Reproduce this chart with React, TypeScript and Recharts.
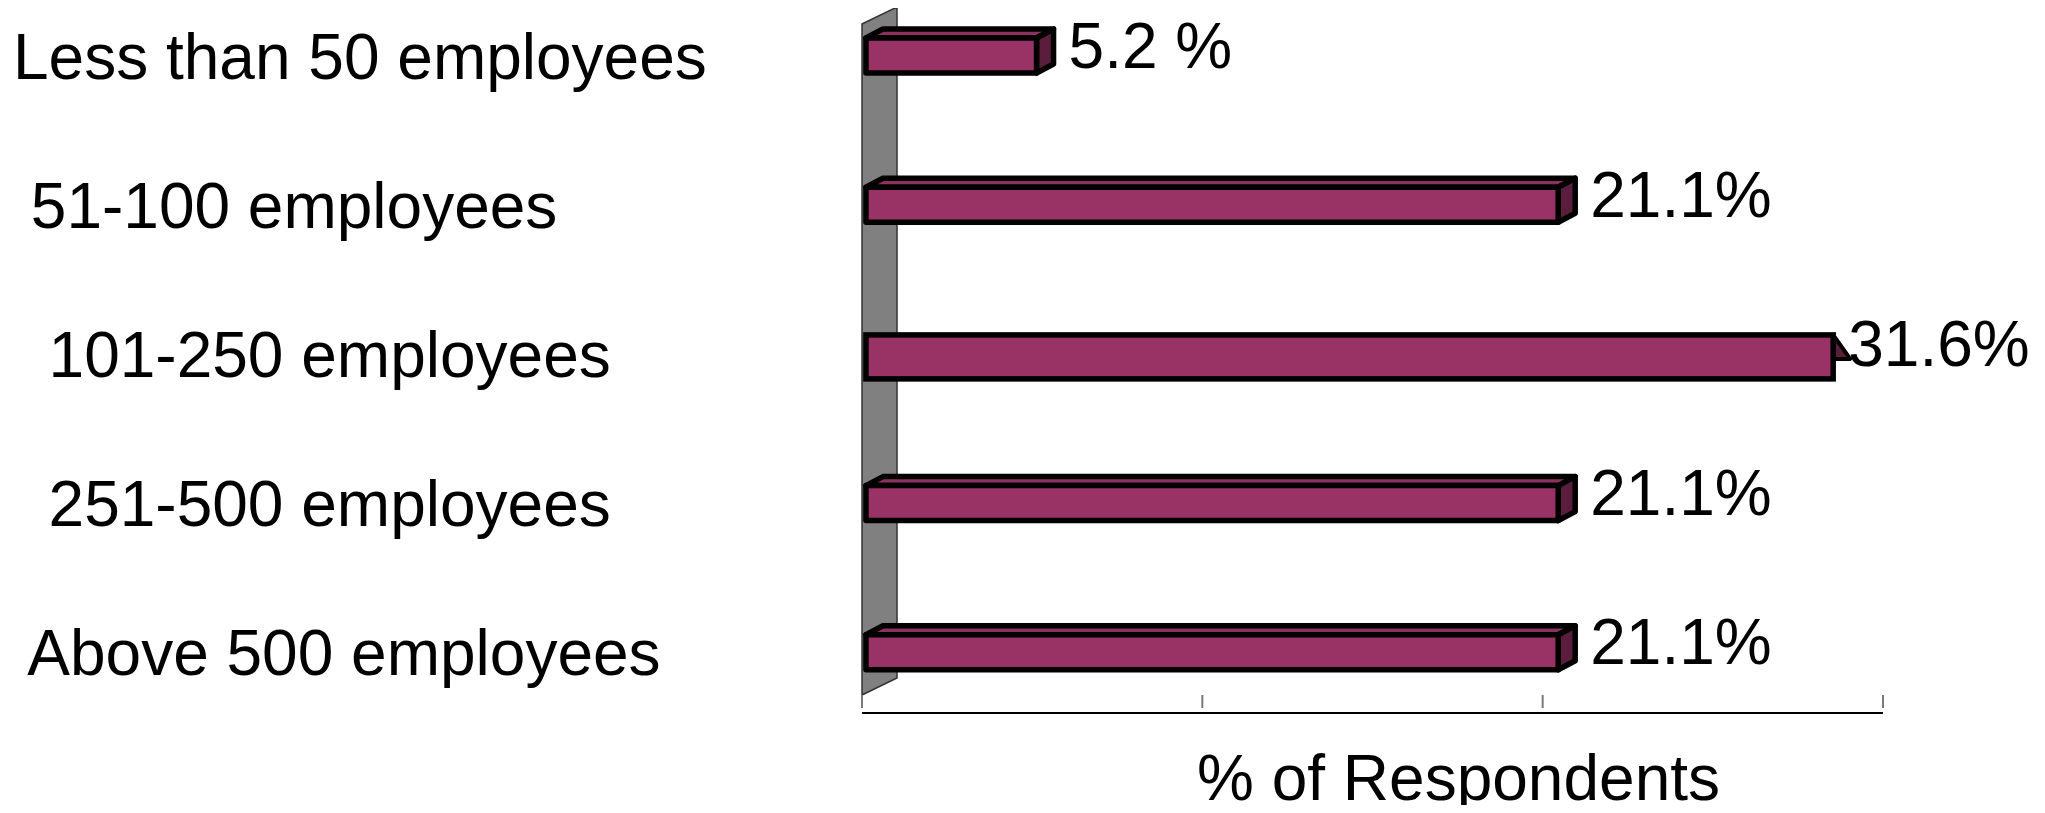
import React from 'react';
import * as Recharts from 'recharts';
import { BarChart, Bar, XAxis, YAxis, LabelList } from 'recharts';

const categories = [
  'Less than 50 employees',
  ' 51-100 employees',
  '  101-250 employees',
  '  251-500 employees',
  ' Above 500 employees',
];
const respondentShare = [5.2, 21.1, 31.6, 21.1, 21.1];
const valueLabels = ['5.2 %', '21.1%', '31.6%', '21.1%', '21.1%'];
const axisTicks = [0, 10, 20, 30];
const axisMax = 30;
const axisTitle = '% of Respondents';

const data = categories.map((name, i) => ({ name, value: respondentShare[i], label: valueLabels[i] }));

const CHART_W = 2029;
const CHART_H = 797;
const MARGIN = { top: -27, right: 154, bottom: 91, left: 0 };
const Y_AXIS_W = 854;
const X_AXIS_H = 1;

const FONT = '"Liberation Sans", Arial, Helvetica, sans-serif';
const FRONT = '#993366';
const TOP = '#8e3060';
const SIDE = '#5a1d3c';
const DX = 17;
const DY = 9;
const SW = 5.5;

const Bar3D = (props: any) => {
  const { x, y, width, height, value } = props;
  if (width == null || !isFinite(width)) return null;
  const unit = value ? width / value : 0;
  const clipped = value > axisMax;
  if (clipped) {
    const clipX = x + axisMax * unit;
    const fr = clipX - DX;
    const top = y - DY / 2 + 3;
    const h = height + DY;
    return (
      <g>
        <polygon
          points={`${fr},${top} ${clipX},${top + 24} ${fr},${top + 24}`}
          fill={SIDE}
          stroke="#000"
          strokeWidth={SW - 1.5}
          strokeLinejoin="round"
        />
        <rect x={x} y={top} width={fr - x} height={h} fill={FRONT} stroke="#000" strokeWidth={SW} />
      </g>
    );
  }
  const r = x + width;
  return (
    <g strokeLinejoin="round">
      <polygon
        points={`${x},${y} ${x + DX},${y - DY} ${r + DX},${y - DY} ${r},${y}`}
        fill={TOP}
        stroke="#000"
        strokeWidth={SW}
      />
      <polygon
        points={`${r},${y} ${r + DX},${y - DY} ${r + DX},${y + height - DY} ${r},${y + height}`}
        fill={SIDE}
        stroke="#000"
        strokeWidth={SW}
      />
      <rect x={x} y={y} width={width} height={height} fill={FRONT} stroke="#000" strokeWidth={SW} />
    </g>
  );
};

const ValueLabel = (p: any) => {
  const vb = p.viewBox || {};
  const x = p.x ?? vb.x;
  const y = p.y ?? vb.y;
  const width = p.width ?? vb.width;
  const height = p.height ?? vb.height;
  const idx = p.index ?? 0;
  const val = respondentShare[idx];
  const unit = width / val;
  const lx = val > axisMax ? x + axisMax * unit - 2 : x + width + 32;
  return (
    <text x={lx} y={y + height / 2 + 12} fontSize={64} fontFamily={FONT} fill="#000">
      {valueLabels[idx]}
    </text>
  );
};

const CategoryTick = (props: any) => {
  const { y, payload } = props;
  return (
    <text x={5} y={y + 23} fontSize={64} fontFamily={FONT} fill="#000" style={{ whiteSpace: 'pre' }}>
      {payload.value}
    </text>
  );
};

const TickMark = (props: any) => {
  const { x, y } = props;
  return <line x1={x} x2={x} y1={y - 19} y2={y - 6} stroke="#7a7a7a" strokeWidth={2} />;
};

const AxisTitle = (props: any) => {
  const vb = props.viewBox || {};
  return (
    <text
      x={vb.x + vb.width / 2 + 86}
      y={vb.y + 87}
      textAnchor="middle"
      fontSize={64}
      fontFamily={FONT}
      fill="#000"
    >
      {axisTitle}
    </text>
  );
};

const useOffsetSafe: () => any = (Recharts as any).useOffset || (() => null);

const Wall = () => {
  const off = useOffsetSafe();
  const left = off && off.left != null ? off.left : MARGIN.left + Y_AXIS_W;
  const top = off && off.top != null ? off.top : MARGIN.top;
  const bottom =
    off && off.height != null ? top + off.height : CHART_H - MARGIN.bottom - X_AXIS_H;
  const w = 35;
  return (
    <polygon
      points={`${left},${top + 43} ${left + w},${top + 26} ${left + w},${bottom - 35} ${left},${bottom - 18}`}
      fill="#808080"
      stroke="#333"
      strokeWidth={1.5}
    />
  );
};

export default function App() {
  return (
    <div style={{ width: CHART_W, height: CHART_H, background: '#fff' }}>
      <style>{`.recharts-surface{overflow:visible}`}</style>
      <BarChart
        width={CHART_W}
        height={CHART_H}
        data={data}
        layout="vertical"
        barSize={35}
        margin={MARGIN}
      >
        <XAxis
          xAxisId="ticks"
          type="number"
          domain={[0, axisMax]}
          allowDataOverflow
          ticks={axisTicks}
          interval={0}
          height={X_AXIS_H}
          tickSize={1}
          tickMargin={0}
          tickLine={false}
          tick={<TickMark />}
          axisLine={{ stroke: '#000', strokeWidth: 2 }}
          label={(p: any) => <AxisTitle {...p} />}
        />
        <XAxis xAxisId="bars" type="number" domain={[-0.12, 31]} allowDataOverflow hide height={0} />
        <YAxis
          type="category"
          dataKey="name"
          width={Y_AXIS_W}
          axisLine={false}
          tickLine={false}
          tick={<CategoryTick />}
          padding={{ top: 0, bottom: -14 }}
          interval={0}
        />
        <Wall />
        <Bar xAxisId="bars" dataKey="value" shape={<Bar3D />} isAnimationActive={false}>
          <LabelList dataKey="value" content={<ValueLabel />} />
        </Bar>
      </BarChart>
    </div>
  );
}
